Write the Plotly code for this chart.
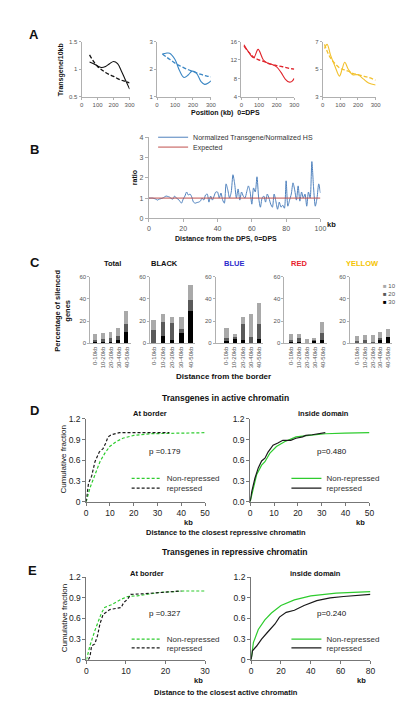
import plotly.graph_objects as go

W, H = 405, 710
FONT = "Liberation Sans, Arial, sans-serif"

# ---------------- Panel A data ----------------
a_black_x = [50, 75, 100, 125, 150, 175, 200, 225, 250, 275, 300]
a_black_obs = [1.13, 1.10, 1.06, 1.03, 1.05, 1.10, 1.14, 1.10, 0.96, 0.80, 0.64]
a_black_exp = [1.26, 1.14, 1.05, 0.99, 0.94, 0.90, 0.87, 0.83, 0.80, 0.78, 0.75]

a_blue_x = [30, 50, 70, 100, 125, 150, 175, 195, 220, 245, 265, 285, 300]
a_blue_obs = [2.55, 2.58, 2.58, 2.35, 1.95, 1.70, 1.80, 1.93, 1.85, 1.55, 1.45, 1.50, 1.58]
a_blue_exp = [2.55, 2.45, 2.36, 2.22, 2.13, 2.05, 1.98, 1.93, 1.87, 1.81, 1.77, 1.74, 1.72]

a_red_x = [15, 40, 70, 95, 125, 150, 175, 200, 225, 250, 270, 285, 300]
a_red_obs = [15.3, 13.8, 12.5, 14.3, 12.0, 11.3, 11.0, 10.5, 9.3, 7.8, 7.2, 7.3, 8.0]
a_red_exp = [15.0, 13.8, 12.6, 12.1, 11.7, 11.3, 11.0, 10.8, 10.6, 10.4, 10.2, 10.1, 10.0]

a_yel_x = [10, 25, 45, 70, 95, 110, 125, 145, 170, 200, 230, 260, 300]
a_yel_obs = [6.5, 6.8, 6.0, 5.2, 4.5, 5.0, 5.5, 5.0, 4.6, 4.6, 4.3, 4.0, 3.85]
a_yel_exp = [6.8, 6.3, 5.8, 5.4, 5.1, 5.0, 4.95, 4.85, 4.7, 4.6, 4.5, 4.4, 4.2]

# ---------------- Panel B data ----------------
b_kb = list(range(0, 101))
b_ratio = [1.0, 1.0, 1.0, 0.98, 0.95, 0.9, 0.95, 0.97, 1.0, 1.05,
           1.1, 1.08, 1.05, 0.98, 0.95, 1.1, 1.0, 0.95, 0.85, 0.75,
           0.95, 1.1, 1.3, 1.15, 1.2, 1.05, 0.8, 0.75, 0.78, 0.8,
           0.85, 1.0, 0.9, 1.15, 1.2, 0.8, 1.1, 0.9, 1.1, 1.3,
           1.3, 1.0, 1.25, 0.9, 0.75, 1.7, 1.4, 1.0, 1.3, 2.15,
           1.7, 1.0, 1.45, 0.9, 1.3, 1.1, 1.0, 1.3, 1.6, 1.3,
           0.7, 1.5, 1.3, 2.05, 1.0, 0.55, 1.0, 1.1, 0.8, 1.2,
           1.0, 0.7, 0.55, 1.2, 0.85, 0.45, 0.8, 0.55, 0.65, 0.5,
           1.85, 0.6, 0.9, 1.2, 1.75, 1.4, 0.9, 1.6, 0.85, 1.3,
           1.0, 1.2, 0.6, 1.3, 1.0, 2.8, 1.5, 0.6, 1.0, 1.7,
           1.25]
b_expected = [1.0] * len(b_kb)

# ---------------- Panel C data ----------------
c_bins = ["0-10kb", "10-20kb", "20-30kb", "30-40kb", "40-50kb"]
c_groups = ["Total", "BLACK", "BLUE", "RED", "YELLOW"]
c_windows = ["100kb", "200kb", "300kb"]
c_total = {"100kb": [9, 9.5, 11, 14, 29], "200kb": [3.5, 4.4, 5.3, 7, 17.7], "300kb": [1.5, 1, 2, 3.5, 11]}
c_black = {"100kb": [21, 27, 24, 24, 53], "200kb": [12.4, 20, 19, 13, 39], "300kb": [0, 7, 3, 10, 29]}
c_blue = {"100kb": [14, 9, 24, 27, 37], "200kb": [5.3, 6, 17.7, 6.5, 18], "300kb": [2.4, 4, 3.5, 0.6, 4.4]}
c_red = {"100kb": [9, 9, 4, 5.3, 20], "200kb": [3.5, 5, 0, 3.5, 10], "300kb": [1.5, 1.5, 0, 2.4, 3.5]}
c_yellow = {"100kb": [7.4, 8.3, 7.7, 11, 13], "200kb": [2.4, 3, 1, 5.3, 6.5], "300kb": [0, 0, 0, 3, 6]}

# ---------------- Panel D data ----------------
d_border_non_x = [0, 1.6, 3.7, 5.8, 7.8, 9.9, 12.6, 15.4, 20, 27, 34, 42, 50]
d_border_non_y = [0, 0.2, 0.39, 0.58, 0.70, 0.80, 0.87, 0.92, 0.96, 0.985, 0.99, 0.995, 1.0]
d_border_rep_x = [0, 0.5, 1, 2.3, 3.7, 5.5, 7.1, 8.1, 9.2, 10.6, 12.6, 14, 20, 28, 35]
d_border_rep_y = [0, 0.12, 0.27, 0.37, 0.58, 0.72, 0.77, 0.84, 0.94, 0.97, 0.99, 1.0, 1.0, 1.0, 1.0]
d_inside_non_x = [0, 1.4, 2.7, 4.8, 6.2, 8.2, 11, 14.4, 19.2, 24.7, 31.5, 39.7, 50]
d_inside_non_y = [0, 0.22, 0.39, 0.53, 0.58, 0.70, 0.80, 0.87, 0.94, 0.96, 0.985, 0.995, 1.0]
d_inside_rep_x = [0, 0.7, 2, 3.4, 4.8, 6.2, 7.5, 9.6, 11.6, 13.7, 17, 19.2, 22, 23.3, 26, 31.5]
d_inside_rep_y = [0, 0.15, 0.34, 0.49, 0.59, 0.63, 0.72, 0.82, 0.85, 0.89, 0.89, 0.92, 0.94, 0.96, 0.97, 1.0]

# ---------------- Panel E data ----------------
e_border_non_x = [0, 0.9, 2.1, 3.8, 4.6, 6.3, 8.8, 10.4, 12.9, 15.4, 18.7, 24.5, 30]
e_border_non_y = [0, 0.21, 0.42, 0.68, 0.76, 0.80, 0.88, 0.92, 0.93, 0.95, 0.98, 1.0, 1.0]
e_border_rep_x = [0.5, 0.9, 1.3, 2.1, 2.8, 3.4, 4.2, 5.9, 8.8, 9.4, 10.4, 11.2, 14.5, 20.3, 24]
e_border_rep_y = [0, 0.05, 0.2, 0.23, 0.35, 0.52, 0.66, 0.73, 0.76, 0.83, 0.88, 0.95, 0.96, 0.99, 1.0]
e_inside_non_x = [0, 1.5, 4.8, 9.2, 13.6, 20, 29, 40, 57, 80]
e_inside_non_y = [0, 0.25, 0.44, 0.58, 0.68, 0.79, 0.87, 0.93, 0.97, 0.99]
e_inside_rep_x = [0, 0.9, 3.7, 7, 11, 16, 19, 23.5, 29, 35.5, 44, 53, 62, 80]
e_inside_rep_y = [0, 0.13, 0.2, 0.3, 0.4, 0.52, 0.62, 0.69, 0.72, 0.79, 0.86, 0.90, 0.92, 0.95]

# ---------------- helpers ----------------
fig = go.Figure()
layout = {}
annotations = []


def px(x):
    return x / W


def py(y):
    return 1 - y / H


def axes(n, x0, x1, ytop, ybot, xr, yr, xstyle, ystyle):
    xs = "xaxis" if n == 1 else f"xaxis{n}"
    ys = "yaxis" if n == 1 else f"yaxis{n}"
    xa = dict(domain=[px(x0), px(x1)], range=xr, anchor=f"y{n}" if n > 1 else "y",
              showgrid=False, zeroline=False)
    ya = dict(domain=[py(ybot), py(ytop)], range=yr, anchor=f"x{n}" if n > 1 else "x",
              showgrid=False, zeroline=False)
    xa.update(xstyle)
    ya.update(ystyle)
    layout[xs] = xa
    layout[ys] = ya


def ref(n):
    return ("x" if n == 1 else f"x{n}"), ("y" if n == 1 else f"y{n}")


def text(x, y, t, size=8, bold=False, angle=0, color="#111", xanchor="center"):
    if bold:
        t = "<b>" + t + "</b>"
    annotations.append(dict(x=px(x), y=py(y), xref="paper", yref="paper", text=t,
                            showarrow=False, textangle=angle, xanchor=xanchor, yanchor="middle",
                            font=dict(size=size, family=FONT, color=color)))


def lstyle(linecolor, tsize, tcolor, ticklen=3):
    return dict(showline=True, linecolor=linecolor, linewidth=1, ticks="outside",
                ticklen=ticklen, tickcolor=linecolor, tickfont=dict(size=tsize, family=FONT, color=tcolor))


# ---------------- Panel A ----------------
a_specs = [
    (a_black_x, a_black_obs, a_black_exp, "#111111", [0.5, 1.5], [0.5, 1, 1.5], (73, 122)),
    (a_blue_x, a_blue_obs, a_blue_exp, "#3a86c4", [1, 3], [1, 2, 3], (150, 205)),
    (a_red_x, a_red_obs, a_red_exp, "#e0242b", [4, 16], [4, 8, 12, 16], (236, 290)),
    (a_yel_x, a_yel_obs, a_yel_exp, "#f2c12e", [3, 7], [3, 5, 7], (319, 373)),
]
for i, (xs, obs, exp, col, yr, yt, (x0, x1)) in enumerate(a_specs):
    n = i + 1
    st = lstyle("#b0b0b0", 6, "#555", 2)
    xst = dict(st, tickvals=[0, 100, 200, 300])
    yst = dict(st, tickvals=yt)
    axes(n, x0, x1, 29, 85, [0, 300], yr, xst, yst)
    xr_, yr_ = ref(n)
    fig.add_trace(go.Scatter(x=xs, y=obs, mode="lines", line=dict(color=col, width=1.1, shape="spline", smoothing=1.0),
                             xaxis=xr_, yaxis=yr_, showlegend=False, hoverinfo="skip"))
    fig.add_trace(go.Scatter(x=xs, y=exp, mode="lines", line=dict(color=col, width=1.3, dash="4px,2px", shape="spline"),
                             xaxis=xr_, yaxis=yr_, showlegend=False, hoverinfo="skip"))

text(24, 22, "A", 13, True)
text(52, 57, "Transgene/10kb", 7, True, -90)
text(220, 101, "Position (kb)  0=DPS", 7, True)

# ---------------- Panel B ----------------
st = lstyle("#b0b0b0", 7, "#555")
axes(5, 141.7, 316.7, 126, 208.3, [0, 100], [0, 4],
     dict(st, tickvals=[0, 20, 40, 60, 80, 100]), dict(st, tickvals=[0, 1, 2, 3, 4]))
fig.add_trace(go.Scatter(x=b_kb, y=b_ratio, mode="lines", name="Normalized Transgene/Normalized HS",
                         line=dict(color="#4f81bd", width=1, shape="spline", smoothing=0.7),
                         xaxis="x5", yaxis="y5", legend="legend", hoverinfo="skip"))
fig.add_trace(go.Scatter(x=b_kb, y=b_expected, mode="lines", name="Expected",
                         line=dict(color="#c0504d", width=1),
                         xaxis="x5", yaxis="y5", legend="legend2", hoverinfo="skip"))
text(25, 138, "B", 13, True)
text(127, 167, "ratio", 7, True, -90)
text(328, 215, "kb", 7.5, True)
text(220, 229, "Distance from the DPS, 0=DPS", 7, True)

# ---------------- Panel C ----------------
c_data = [c_total, c_black, c_blue, c_red, c_yellow]
# axis line x, first bar centre, step, title centre
c_geo = [(82, 86.7, 8.1, 105), (143, 146.7, 9.4, 158), (210, 220.7, 8.3, 229),
         (280, 287, 8.0, 295), (347, 354, 8.0, 360)]
c_cols = {"100kb": "#a9a9a9", "200kb": "#5a5a5a", "300kb": "#000000"}
c_title_cols = ["#111111", "#111111", "#2b2bcc", "#e8212a", "#f5c400"]
for i, (grp, dat) in enumerate(zip(c_groups, c_data)):
    n = 6 + i
    a, c0, s, tx = c_geo[i]
    left = -(c0 - a) / s
    x1 = c0 + 4 * s + s / 2
    st = lstyle("#b0b0b0", 6, "#555", 2)
    xst = dict(st, tickvals=list(range(len(c_bins))), ticktext=c_bins, tickangle=-90, ticks="")
    yst = dict(st, tickvals=[0, 20, 40, 60], ticksuffix="%")
    axes(n, a, x1, 267.3, 335, [left, 4.5], [0, 60], xst, yst)
    xr_, yr_ = ref(n)
    for w in c_windows:
        fig.add_trace(go.Bar(x=list(range(len(c_bins))), y=dat[w], width=0.5, marker=dict(color=c_cols[w], line=dict(width=0)),
                             xaxis=xr_, yaxis=yr_, showlegend=False, hoverinfo="skip", name=w))
    text(tx, 254, grp, 7.5, True, color=c_title_cols[i])

for j, w in enumerate(c_windows):
    text(378, 277 + 8 * j, f"<span style='color:{c_cols[w]}'>■</span> {w[:2]}", 6, False, xanchor="left", color="#555")

text(25, 253, "C", 13, True)
text(54, 302, "Percentage of silenced<br>genes", 7.5, True, -90)
text(218, 369, "Distance from the border", 8, True)

# ---------------- Panels D & E ----------------
GREEN = "#2ecc2e"
DARK = "#1a1a1a"
cdf_specs = [
    (11, 77.7, 199, 411.7, 495.7, [0, 50], [0, 10, 20, 30, 40, 50], ["0", "0.3", "0.6", "0.9", "1.2"],
     (d_border_non_x, d_border_non_y), (d_border_rep_x, d_border_rep_y), "3px,2px", ("legend3", "legend4")),
    (12, 245, 366.7, 411.7, 495.7, [0, 50], [0, 10, 20, 30, 40, 50], ["0.0", "0.3", "0.6", "0.9", "1.2"],
     (d_inside_non_x, d_inside_non_y), (d_inside_rep_x, d_inside_rep_y), "solid", ("legend5", "legend6")),
    (13, 78, 199, 572.3, 656, [0, 30], [0, 10, 20, 30], ["0", "0.3", "0.6", "0.9", "1.2"],
     (e_border_non_x, e_border_non_y), (e_border_rep_x, e_border_rep_y), "3px,2px", ("legend7", "legend8")),
    (14, 246, 367.7, 572.3, 656, [0, 80], [0, 20, 40, 60, 80], ["0", "0.3", "0.6", "0.9", "1.2"],
     (e_inside_non_x, e_inside_non_y), (e_inside_rep_x, e_inside_rep_y), "solid", ("legend9", "legend10")),
]
for n, x0, x1, yt, yb, xr, xt, ytt, non, rep, dash, legs in cdf_specs:
    st = lstyle("#777777", 8.5, "#222", 3)
    axes(n, x0, x1, yt, yb, xr, [0, 1.2], dict(st, tickvals=xt),
         dict(st, tickvals=[0, 0.3, 0.6, 0.9, 1.2], ticktext=ytt))
    xr_, yr_ = ref(n)
    fig.add_trace(go.Scatter(x=non[0], y=non[1], mode="lines", name="Non-repressed",
                             line=dict(color=GREEN, width=1.2, dash=dash), xaxis=xr_, yaxis=yr_,
                             legend=legs[0], hoverinfo="skip"))
    fig.add_trace(go.Scatter(x=rep[0], y=rep[1], mode="lines", name="repressed",
                             line=dict(color=DARK, width=1.2, dash=dash), xaxis=xr_, yaxis=yr_,
                             legend=legs[1], hoverinfo="skip"))

text(220, 390, "Transgenes in active chromatin", 8.5, True)
text(25, 403, "D", 13, True)
text(143, 406, "At border", 7.5, True)
text(320, 406, "inside domain", 7.5, True)
text(55, 453, "Cumulative fraction", 8, False, -90)
text(158, 445, "p =0.179", 8)
text(328, 445, "p=0.480", 8)
text(182, 517, "kb", 7.5, True)
text(358, 517, "kb", 7.5, True)
text(220, 527, "Distance to the closest repressive chromatin", 7.5, True)

text(230, 547, "Transgenes in repressive chromatin", 8.5, True)
text(23, 565, "E", 13, True)
text(140, 569, "At border", 7.5, True)
text(312, 569, "inside domain", 7.5, True)
text(55, 614, "Cumulative fraction", 8, False, -90)
text(158, 609, "p =0.327", 8)
text(328, 609, "p=0.240", 8)
text(192, 677, "kb", 7.5, True)
text(359, 677, "kb", 7.5, True)
text(220, 689, "Distance to the closest active chromatin", 7.5, True)


# ---------------- legends ----------------
def leg(xp, yp, size):
    return dict(x=px(xp), y=py(yp), xanchor="left", yanchor="middle", bgcolor="rgba(0,0,0,0)",
                borderwidth=0, itemwidth=30, tracegroupgap=0,
                font=dict(size=size, family=FONT, color="#333"))


layout["legend"] = leg(146, 126, 7)
layout["legend2"] = leg(146, 136, 7)
layout["legend3"] = leg(119, 472, 8)
layout["legend4"] = leg(119, 482, 8)
layout["legend5"] = leg(282, 472, 8)
layout["legend6"] = leg(282, 482, 8)
layout["legend7"] = leg(119, 635, 8)
layout["legend8"] = leg(119, 644, 8)
layout["legend9"] = leg(282, 635, 8)
layout["legend10"] = leg(282, 644, 8)

fig.update_layout(**layout)
fig.update_layout(width=W, height=H, margin=dict(l=0, r=0, t=0, b=0), autosize=False,
                  paper_bgcolor="white", plot_bgcolor="white", barmode="overlay", bargap=0,
                  annotations=annotations, font=dict(family=FONT), hovermode=False)

fig.write_html("out.html")
